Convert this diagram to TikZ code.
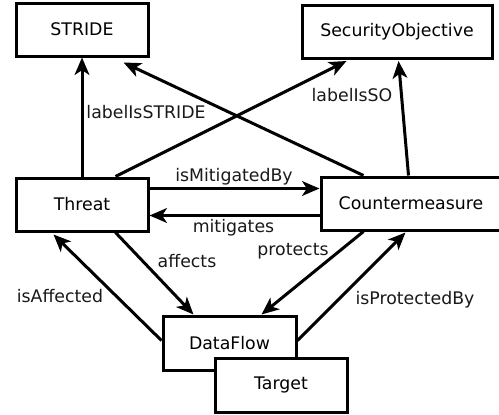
\documentclass[tikz,border=0pt]{standalone}
\usepackage{fontspec}
\setmainfont{DejaVu Sans}
\usetikzlibrary{arrows.meta,calc}
\begin{document}
\begin{tikzpicture}[x=0.75pt,y=-0.75pt,
  box/.style={draw,line width=2.25pt,fill=white,inner sep=0pt,minimum height=39.75pt},
  arr/.style={line width=2.25pt,-{Stealth[length=13pt,width=11pt,inset=3.5pt]}},
  lbl/.style={inner sep=0pt,text=black!90},
  every node/.append style={font=\fontsize{13}{15}\selectfont}]
\useasboundingbox (0,0) rectangle (499,414);
\clip (0,0) rectangle (499,414);
\node[box,minimum width=99pt] (stride) at (82,29.5) {STRIDE};
\node[box,minimum width=142.5pt] (so) at (397,31.5) {SecurityObjective};
\node[box,minimum width=99pt] (threat) at (82,204.5) {Threat};
\node[box,minimum width=135pt] (cm) at (411,203.5) {Countermeasure};
% connectors
\draw[arr] (threat.north) -- (stride.south);
\draw[arr] ($(cm.north west)+(44,0)$) -- ($(stride.south west)+(109,5)$);
\draw[arr] ($(threat.north west)+(101,0)$) -- ($(so.south west)+(46,1.5)$);
\draw[arr] ($(cm.north west)+(89,0)$) -- ($(so.south west)+(98,1.5)$);
\draw[arr] ($(threat.north east)+(0,12)$) -- ($(cm.north west)+(0,13)$);
\draw[arr] ($(cm.north west)+(0,40)$) -- ($(threat.north east)+(0,39)$);
\node[box,minimum width=99.75pt,minimum height=40.5pt] (df) at (229.5,343) {DataFlow};
\draw[arr] ($(threat.south west)+(101,0)$) -- ($(df.north west)+(32,0)$);
\draw[arr] ($(df.north west)+(0,26)$) -- ($(threat.south west)+(39,2)$);
\draw[arr] ($(cm.south west)+(44,0)$) -- ($(df.north west)+(100,0)$);
\draw[arr] ($(df.north east)+(0,26)$) -- ($(cm.south west)+(86,1)$);
\node[box,minimum width=99pt,minimum height=40.5pt] (target) at (281,385) {Target};
% labels
\node[lbl] (l1) at (146,112) {labelIsSTRIDE};
\node[lbl] (l2) at (352,95.5) {labelIsSO};
\node[lbl] (l3) at (234,177) {isMitigatedBy};
\node[lbl] (l4) at (233.5,228) {mitigates};
\node[lbl] (l5) at (187,261.5) {affects};
\node[lbl] (l6) at (293,251.5) {protects};
\node[lbl] (l7) at (60,296) {isAffected};
\node[lbl] (l8) at (415,299.5) {isProtectedBy};
\end{tikzpicture}
\end{document}
